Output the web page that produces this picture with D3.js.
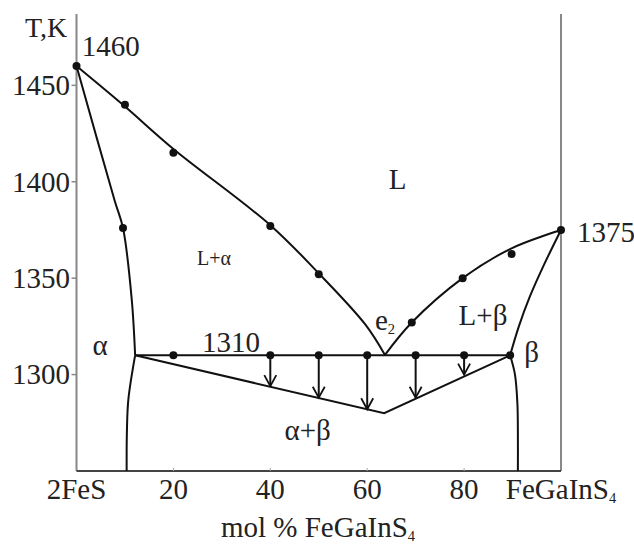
<!DOCTYPE html>
<html>
<head>
<meta charset="utf-8">
<script src="https://cdn.jsdelivr.net/npm/d3@7"></script>
<style>
  body { margin: 0; background: #fff; }
</style>
</head>
<body>
<div id="chart"></div>
<script>
// phase diagram 2FeS - FeGaInS4 (x = mol % FeGaInS4, y = T, K)
const xTicks = [0, 20, 40, 60, 80, 100];
const xTickLabels = ['2FeS', '20', '40', '60', '80', 'FeGaInS|4'];
const yTicks = [1300, 1350, 1400, 1450];

// curves (knots)
const liquidusAlpha = [[0, 1460], [10, 1439], [20, 1417], [40, 1377.5], [50, 1352.5], [59.6, 1326], [63.7, 1310]];
const liquidusBeta = [[63.6, 1310], [69.2, 1327], [79.7, 1350], [89.8, 1365.5], [100, 1375]];
const solidusAlpha = [[0, 1460], [7.9, 1390], [9.6, 1376], [11.4, 1339], [12.1, 1310]];
const solvusAlpha = [[12.1, 1310], [10.7, 1287], [10.4, 1270], [10.35, 1250]];
const solidusBeta = [[100, 1375], [96.5, 1357], [93.5, 1340], [91.3, 1325], [89.5, 1310]];
const solvusBeta = [[89.5, 1310], [90.5, 1300], [91.0, 1285], [91.1, 1270], [91.1, 1250]];
const eutectic = [[12.1, 1310], [89.5, 1310]];
const lowerBound = [[12.1, 1310], [63.5, 1280], [89.5, 1310]];

// measured points
const dots = [
  [0, 1460], [10, 1440], [20, 1415], [40, 1377], [50, 1352],
  [9.6, 1376],
  [69.2, 1327], [79.7, 1350], [89.8, 1362.5], [100, 1375],
  [20, 1310], [40, 1310], [50, 1310], [60, 1310], [70, 1310], [80, 1310], [89.5, 1310]
];
// arrows: x, T start, T end
const arrows = [[40, 1310, 1294], [50, 1310, 1288], [60, 1310, 1282], [70, 1310, 1288], [80, 1310, 1300]];

// annotations (data units)
const labels = [
  { t: '1460', x: 1.1, y: 1465, a: 'start' },
  { t: '1375', x: 103.3, y: 1369, a: 'start' },
  { t: 'L', x: 66.3, y: 1396, a: 'middle' },
  { t: 'L+α', x: 28.4, y: 1357, a: 'middle', small: true },
  { t: 'α', x: 4.85, y: 1310, a: 'middle' },
  { t: '1310', x: 31.9, y: 1311.5, a: 'middle' },
  { t: 'e|2', x: 61.6, y: 1323, a: 'start' },
  { t: 'L+β', x: 83.9, y: 1325.5, a: 'middle' },
  { t: 'β', x: 92.4, y: 1306.5, a: 'start' },
  { t: 'α+β', x: 47.7, y: 1266, a: 'middle' }
];

const width = 634, height = 547;
const serif = '"Liberation Serif", "Times New Roman", "DejaVu Serif", serif';
const x = d3.scaleLinear().domain([0, 100]).range([76.5, 561]);
const y = d3.scaleLinear().domain([1250, 1487]).range([471, 14]);

const svg = d3.select('#chart').append('svg')
  .attr('width', width)
  .attr('height', height)
  .attr('font-family', serif);

// text with optional subscript after '|'
const addText = (sel, str, size) => {
  const parts = str.split('|');
  sel.attr('font-family', serif).attr('fill', '#222');
  sel.append('tspan').text(parts[0]);
  if (parts[1]) {
    sel.append('tspan')
      .attr('font-size', size * 0.5)
      .attr('dy', size * 0.14)
      .text(parts[1]);
  }
  return sel;
};

// frame lines
svg.append('line')
  .attr('x1', x(0)).attr('x2', x(0)).attr('y1', 14).attr('y2', y(1250))
  .attr('stroke', '#888').attr('stroke-width', 2);
svg.append('line')
  .attr('x1', x(100)).attr('x2', x(100)).attr('y1', 14).attr('y2', y(1250))
  .attr('stroke', '#888').attr('stroke-width', 2);
svg.append('line')
  .attr('x1', x(0)).attr('x2', x(100)).attr('y1', y(1250)).attr('y2', y(1250))
  .attr('stroke', '#444').attr('stroke-width', 2);

// y ticks
yTicks.forEach(t => {
  svg.append('line')
    .attr('x1', x(0) - 5).attr('x2', x(0)).attr('y1', y(t)).attr('y2', y(t))
    .attr('stroke', '#888').attr('stroke-width', 1.5);
  addText(svg.append('text')
    .attr('x', 70).attr('y', y(t)).attr('dy', '0.34em')
    .attr('text-anchor', 'end').attr('font-size', 29), String(t), 29);
});

// x ticks
xTicks.forEach((t, i) => {
  if (t > 0 && t < 100) {
    svg.append('line')
      .attr('x1', x(t)).attr('x2', x(t)).attr('y1', y(1250)).attr('y2', y(1250) - 3)
      .attr('stroke', '#aaa').attr('stroke-width', 1);
  }
  const tx = svg.append('text')
    .attr('x', x(t)).attr('y', 499)
    .attr('text-anchor', 'middle').attr('font-size', 29);
  addText(tx, xTickLabels[i], 29);
});

// axis titles
addText(svg.append('text')
  .attr('x', 25).attr('y', 37).attr('font-size', 28), 'T,K', 28);
addText(svg.append('text')
  .attr('x', 318).attr('y', 537).attr('text-anchor', 'middle').attr('font-size', 29),
  'mol % FeGaInS|4', 29);

// curves
const line = d3.line().x(d => x(d[0])).y(d => y(d[1]));
const smooth = d3.line().x(d => x(d[0])).y(d => y(d[1])).curve(d3.curveCatmullRom.alpha(0.5));

const drawPath = (data, gen) => svg.append('path')
  .attr('d', gen(data))
  .attr('fill', 'none')
  .attr('stroke', '#111')
  .attr('stroke-width', 2);

drawPath(liquidusAlpha, smooth);
drawPath(liquidusBeta, smooth);
drawPath(solidusAlpha, smooth);
drawPath(solvusAlpha, smooth);
drawPath(solidusBeta, smooth);
drawPath(solvusBeta, smooth);
drawPath(eutectic, line);
drawPath(lowerBound, line);

// arrows
arrows.forEach(([ax, t0, t1]) => {
  const px = x(ax), y0 = y(t0), y1 = y(t1);
  svg.append('line')
    .attr('x1', px).attr('x2', px).attr('y1', y0).attr('y2', y1)
    .attr('stroke', '#111').attr('stroke-width', 2);
  svg.append('path')
    .attr('d', `M${px - 6},${y1 - 11}L${px},${y1}L${px + 6},${y1 - 11}`)
    .attr('fill', 'none').attr('stroke', '#111').attr('stroke-width', 1.8);
});

// dots
svg.selectAll('circle.pt')
  .data(dots)
  .enter()
  .append('circle')
  .attr('class', 'pt')
  .attr('cx', d => x(d[0]))
  .attr('cy', d => y(d[1]))
  .attr('r', 4)
  .attr('fill', '#111');

// labels
labels.forEach(l => {
  const size = l.small ? 20 : 29;
  const t = svg.append('text')
    .attr('x', x(l.x)).attr('y', y(l.y))
    .attr('text-anchor', l.a)
    .attr('font-size', size);
  addText(t, l.t, size);
});
</script>
</body>
</html>
